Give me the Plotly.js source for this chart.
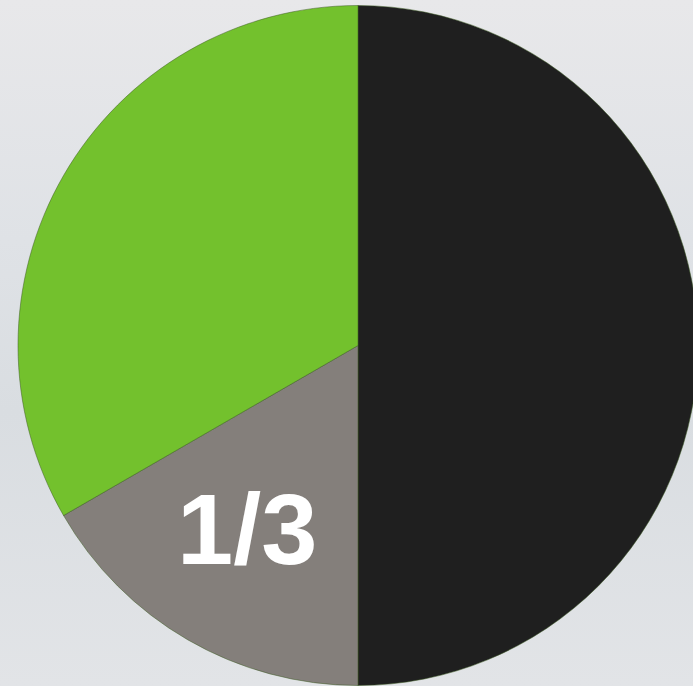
<!DOCTYPE html>
<html>
<head>
<meta charset="utf-8">
<script src="https://cdn.plot.ly/plotly-3.0.1.min.js"></script>
<style>
html,body{margin:0;padding:0;width:693px;height:686px;overflow:hidden;
background:linear-gradient(180deg,#e8e8ea 0%,#dfe2e6 35%,#d9dde1 60%,#e2e4e7 100%);}
#chart{width:720px;height:686px;}
</style>
</head>
<body>
<div id="chart"></div>
<script>
var labels = ["Black", "Grey", "Green"];
var values = [1/2, 1/6, 1/3];
var colors = ["#1f1f1f", "#847f7b", "#73c12d"];
var sliceText = "1/3";

var W = 720, H = 686;
var data = [{
  type: "pie",
  labels: labels,
  values: values,
  sort: false,
  direction: "clockwise",
  rotation: 0,
  marker: {colors: colors, line: {color: "#3d5a22", width: 0.5}},
  textinfo: "none",
  hoverinfo: "none",
  domain: {x: [18 / W, 698 / W], y: [1 - 686 / H, 1 - 5 / H]}
}];
var layout = {
  width: W, height: H,
  margin: {l: 0, r: 0, t: 0, b: 0},
  paper_bgcolor: "rgba(0,0,0,0)",
  plot_bgcolor: "rgba(0,0,0,0)",
  showlegend: false,
  annotations: [{
    text: sliceText,
    xref: "paper", yref: "paper",
    x: 247 / W, y: 1 - 529 / H,
    xanchor: "center", yanchor: "middle",
    showarrow: false,
    font: {family: "Liberation Sans, Arial, sans-serif", size: 101, color: "#ffffff", weight: "bold"}
  }]
};
Plotly.newPlot("chart", data, layout, {staticPlot: true, displayModeBar: false});
</script>
</body>
</html>
